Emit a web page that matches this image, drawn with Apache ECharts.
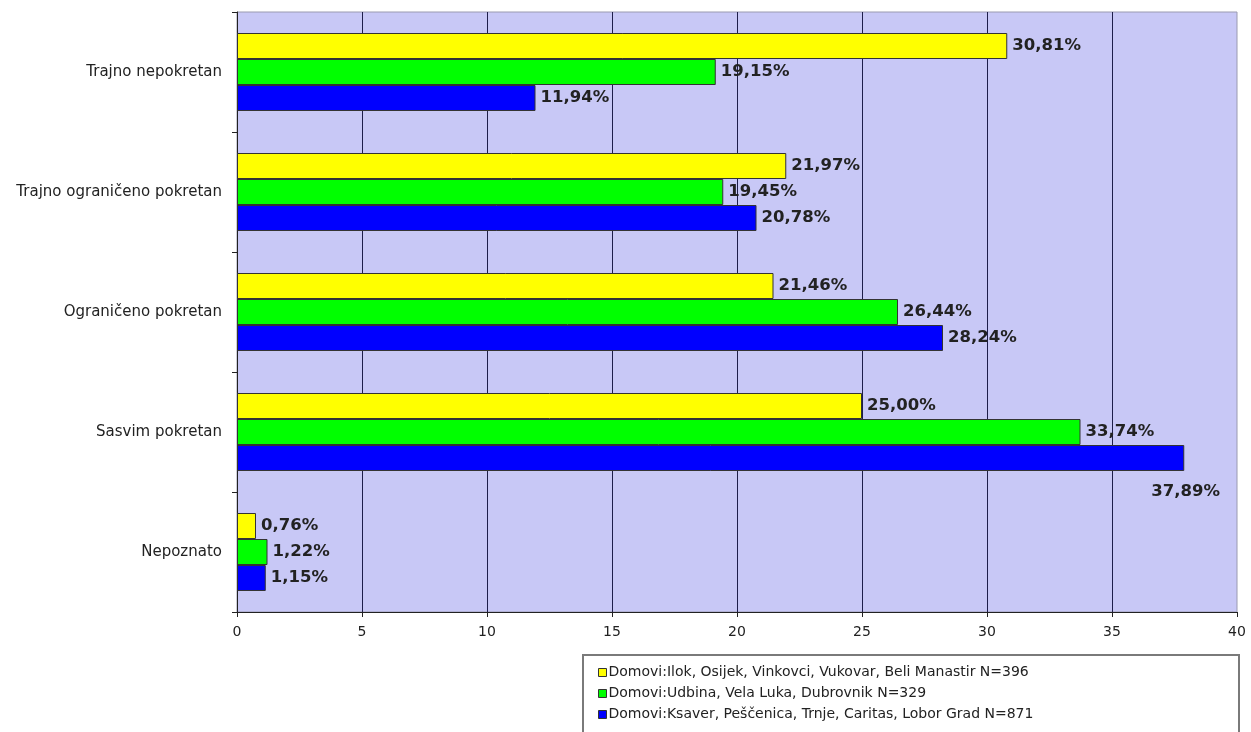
<!DOCTYPE html>
<html>
<head>
<meta charset="utf-8">
<script src="https://cdn.jsdelivr.net/npm/echarts@6/dist/echarts.min.js"></script>
<style>
  html, body { margin: 0; padding: 0; background: #ffffff; }
  #chart { width: 1251px; height: 732px; }
</style>
</head>
<body>
<div id="chart"></div>
<script>
// Mobility categories, top to bottom
const categories = [
  'Trajno nepokretan',
  'Trajno ograničeno pokretan',
  'Ograničeno pokretan',
  'Sasvim pokretan',
  'Nepoznato'
];

// Percentages per group of homes
const seriesNames = [
  'Domovi:Ilok, Osijek, Vinkovci, Vukovar, Beli Manastir N=396',
  'Domovi:Udbina, Vela Luka, Dubrovnik N=329',
  'Domovi:Ksaver, Peščenica, Trnje, Caritas, Lobor Grad N=871'
];
const valuesYellow = [30.81, 21.97, 21.46, 25.00, 0.76];
const valuesGreen  = [19.15, 19.45, 26.44, 33.74, 1.22];
const valuesBlue   = [11.94, 20.78, 28.24, 37.89, 1.15];

const colors = ['#ffff00', '#00ff00', '#0000ff'];

const fmt = v => v.toFixed(2).replace('.', ',') + '%';

const wideFont = '"DejaVu Sans", Verdana, sans-serif';

const labelStyle = {
  show: true,
  position: 'right',
  distance: 5,
  color: '#222',
  fontFamily: wideFont,
  fontSize: 16.5,
  fontWeight: 'bold',
  formatter: p => fmt(p.value)
};

function makeSeries(name, values, color) {
  return {
    name: name,
    type: 'bar',
    data: values.map(v => {
      const item = { value: v };
      // the longest bar reaches the plot edge, so its label sits below it
      if (v > 37) {
        item.label = { position: 'right', offset: [-38, 34] };
      }
      return item;
    }),
    itemStyle: { color: color, borderColor: '#333', borderWidth: 1 },
    label: labelStyle,
    barGap: '0%',
    barCategoryGap: '35%'
  };
}

const chart = echarts.init(document.getElementById('chart'));
chart.setOption({
  animation: false,
  grid: {
    left: 237, right: 14, top: 12, bottom: 120,
    show: true,
    backgroundColor: '#c8c8f6',
    borderColor: '#9a9ab0',
    borderWidth: 1
  },
  xAxis: {
    type: 'value',
    min: 0, max: 40, interval: 5,
    axisLine: { show: true, lineStyle: { color: '#222', width: 1 } },
    axisTick: { show: true, length: 5, lineStyle: { color: '#222' } },
    axisLabel: {
      color: '#222', fontSize: 14, margin: 13,
      fontFamily: wideFont
    },
    splitLine: { show: true, showMaxLine: false, lineStyle: { color: '#1e1e4a', width: 1 } }
  },
  yAxis: {
    type: 'category',
    data: categories,
    inverse: true,
    axisLine: { show: true, lineStyle: { color: '#222', width: 1 } },
    axisTick: { show: true, length: 5, lineStyle: { color: '#222' } },
    axisLabel: {
      color: '#222', fontSize: 15, margin: 15,
      fontFamily: wideFont
    },
    splitLine: { show: false }
  },
  legend: {
    orient: 'vertical',
    left: 598, top: 665,
    padding: 0,
    itemWidth: 8, itemHeight: 8,
    itemGap: 6,
    icon: 'rect',
    selectedMode: false,
    textStyle: {
      color: '#222', fontSize: 14, lineHeight: 15,
      fontFamily: wideFont,
      padding: [0, 0, 0, -3]
    },
    itemStyle: { borderColor: '#333', borderWidth: 1 },
    data: seriesNames
  },
  graphic: [{
    type: 'rect',
    shape: { x: 583, y: 655, width: 656, height: 90 },
    style: { fill: '#ffffff', stroke: '#7a7a7a', lineWidth: 2 },
    z: -1
  }],
  series: [
    makeSeries(seriesNames[0], valuesYellow, colors[0]),
    makeSeries(seriesNames[1], valuesGreen, colors[1]),
    makeSeries(seriesNames[2], valuesBlue, colors[2])
  ]
});
</script>
</body>
</html>
